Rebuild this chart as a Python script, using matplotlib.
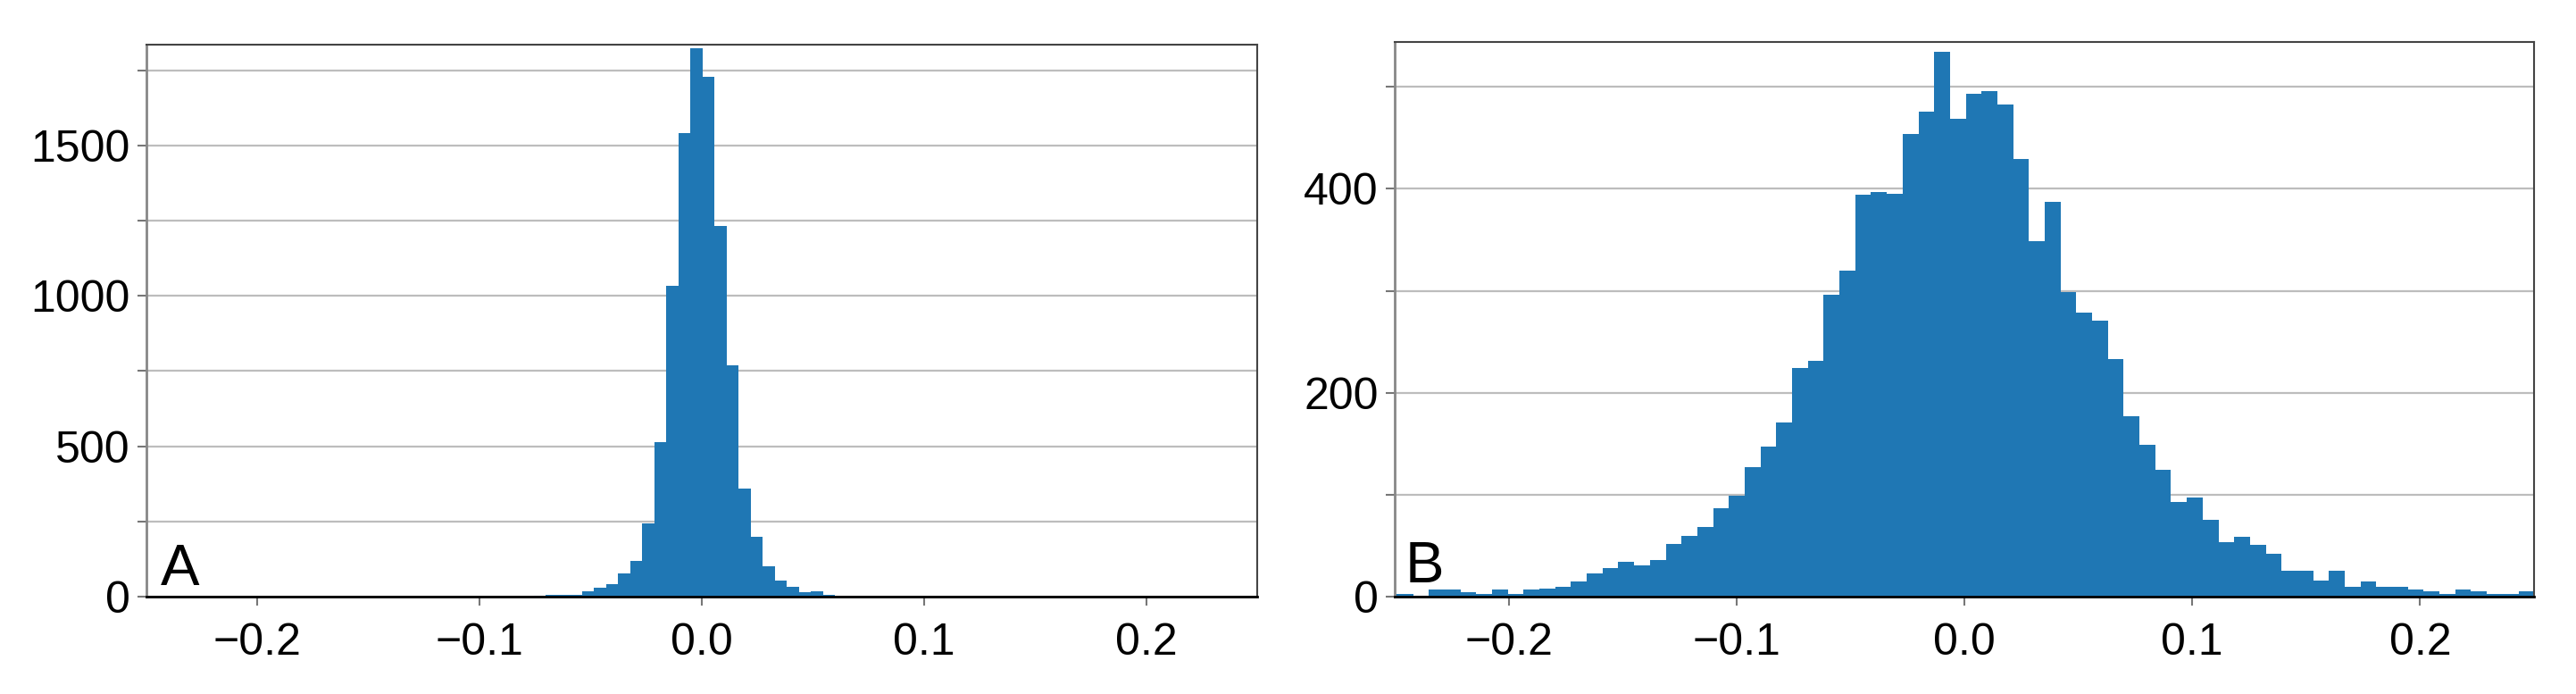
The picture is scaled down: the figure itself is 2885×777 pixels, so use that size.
import numpy as np
import matplotlib
matplotlib.use("Agg")
import matplotlib.pyplot as plt
from matplotlib.ticker import MultipleLocator

plt.rcParams['font.family'] = ['Liberation Sans', 'DejaVu Sans']

# ---- data ----
# Panel A histogram
a_first_edge = -0.0756
a_bin_width = 0.00542
a_counts = [4, 5, 5, 5, 19, 29, 43, 77, 120, 243, 515, 1032, 1541, 1822,
            1727, 1233, 768, 358, 200, 101, 53, 34, 15, 19, 5]

# Panel B histogram
b_first_edge = -0.2558
b_bin_width = 0.00693
b_counts = [3, 3, 1, 7, 7, 4, 3, 7, 3, 7, 8, 10, 15, 23, 28, 34, 31, 36,
            52, 60, 68, 87, 99, 127, 147, 171, 224, 231, 296, 320, 394, 397,
            395, 454, 476, 534, 469,
            493, 496, 483, 429, 349, 387, 299, 279, 271, 233, 177, 149, 124,
            93, 97, 75, 53, 59, 51, 42, 25, 25, 16, 25, 10, 15, 10, 10, 7, 5,
            3, 7, 5, 3, 3, 5]

x_ticks = [-0.2, -0.1, 0.0, 0.1, 0.2]
x_tick_labels = ['\u22120.2', '\u22120.1', '0.0', '0.1', '0.2']
panel_labels = ['A', 'B']
a_ylim = 1835
b_ylim = 544

W, H = 2885, 777
fig = plt.figure(figsize=(W / 100, H / 100), dpi=100)
axA = fig.add_axes([164 / W, (H - 668) / H, (1408 - 164) / W, (668 - 50) / H])
axB = fig.add_axes([1562 / W, (H - 668) / H, (2838 - 1562) / W, (668 - 47) / H])

def style(ax, counts, first_edge, width, ymax, major, minor, label, lab_off):
    edges = first_edge + width * np.arange(len(counts) + 1)
    ax.stairs(counts, edges, fill=True, color='#1f77b4', linewidth=0, zorder=2)
    ax.set_xlim(-0.25, 0.25)
    ax.set_ylim(0, ymax)
    ax.set_xticks(x_ticks)
    ax.set_xticklabels(x_tick_labels)
    ax.yaxis.set_major_locator(MultipleLocator(major))
    ax.yaxis.set_minor_locator(MultipleLocator(minor))
    ax.grid(axis='y', which='both', color='#bdbdbd', linewidth=1.6, zorder=0)
    ax.set_axisbelow(True)
    ax.tick_params(axis='both', which='both', labelsize=36, color='#777777',
                   length=7, width=1.5)
    ax.tick_params(axis='x', pad=14)
    ax.tick_params(axis='y', pad=6)
    for s in ['top', 'right']:
        ax.spines[s].set_color('#444444')
        ax.spines[s].set_linewidth(1.5)
    ax.spines['left'].set_color('#888888')
    ax.spines['left'].set_linewidth(2)
    ax.spines['bottom'].set_color('black')
    ax.spines['bottom'].set_linewidth(2)
    ax.text(lab_off[0], lab_off[1], label, transform=ax.transAxes,
            fontsize=47, ha='left', va='baseline', zorder=5)

style(axA, a_counts, a_first_edge, a_bin_width, a_ylim, 500, 250,
      panel_labels[0], (0.013, 0.021))
style(axB, b_counts, b_first_edge, b_bin_width, b_ylim, 200, 100,
      panel_labels[1], (0.009, 0.026))

fig.savefig('out.png', dpi=100)
